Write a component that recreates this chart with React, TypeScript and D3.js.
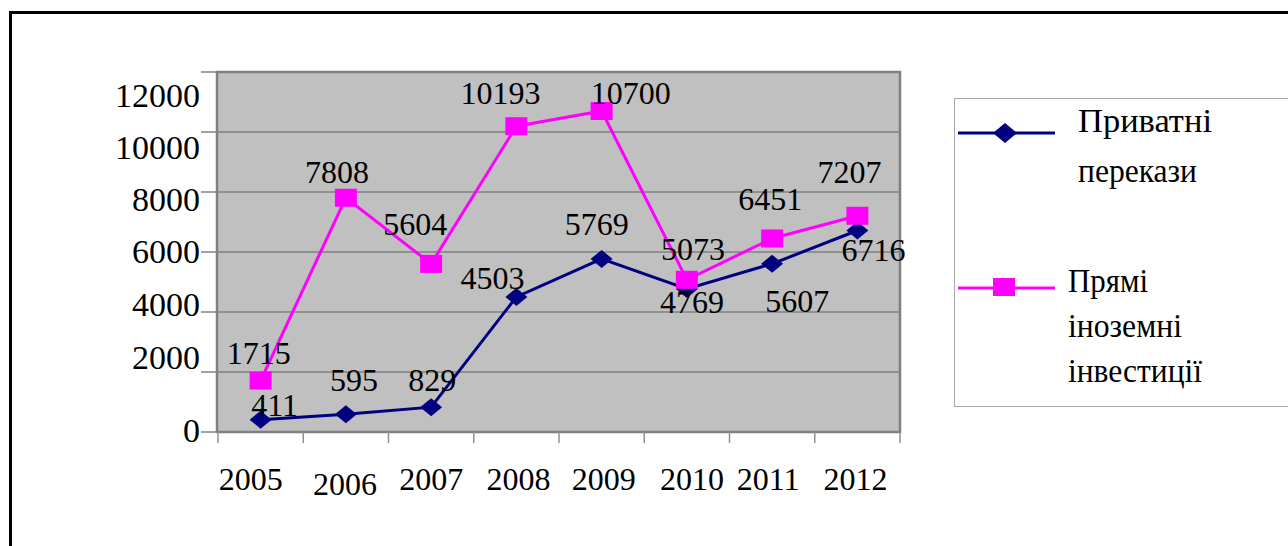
import React from "react";
import { scaleBand, scaleLinear, line as d3line } from "d3";

const years = ["2005", "2006", "2007", "2008", "2009", "2010", "2011", "2012"];
const privateTransfers = [411, 595, 829, 4503, 5769, 4769, 5607, 6716];
const fdi = [1715, 7808, 5604, 10193, 10700, 5073, 6451, 7207];
const yTicks = [0, 2000, 4000, 6000, 8000, 10000, 12000];
const seriesNames = [["Приватні", "перекази"], ["Прямі", "іноземні", "інвестиції"]];

// styling: label offsets relative to anchor points
const yLabelShift = [-2, -15, -8, -1, 7, 15, 23];
const xLabelShift = [[-10, 0], [-1, 5], [0, 0], [2, 0], [2, 0], [5, 0], [-4, 0], [-2, 0]];
const privOffsets = [[14, -15], [8, -34], [1, -27], [-24, -19], [-5, -35], [5, 13], [25, 37], [16, 19]];
const fdiOffsets = [[-2, -28], [-9, -26], [-16, -40], [-16, -33], [29, -18], [6, -31], [-2, -40], [-8, -44]];
const legendWidths = [[134, 119], [80, 114, 134]];

const W = 1288, H = 546;
const plot = { x0: 217, x1: 900, y0: 72, y1: 432 };
const NAVY = "#000080";
const MAG = "#FF00FF";

function T(props: any) {
  const { children, ...rest } = props;
  return (
    <text fill="#000" style={{ fontFamily: '"Liberation Serif"' }} {...rest}>
      {children}
    </text>
  );
}

export default function App() {
  const x = scaleBand<string>().domain(years).range([plot.x0 + 1, plot.x1]).padding(0);
  const y = scaleLinear().domain([0, 12000]).range([plot.y1, plot.y0]);
  const cx = (i: number) => (x(years[i]) as number) + x.bandwidth() / 2;
  const line = d3line<number>().x((_, i) => cx(i)).y((d) => y(d));
  const diamond = (px: number, py: number, w = 11, h = 10) =>
    `M${px},${py - h} L${px + w},${py} L${px},${py + h} L${px - w},${py} Z`;

  return (
    <svg width={W} height={H} style={{ position: "absolute", left: 0, top: 0 }}>
      <rect x={10.5} y={12.5} width={W + 10} height={H + 10} fill="#fff" stroke="#000" strokeWidth={3} />
      <rect x={plot.x0} y={plot.y0} width={plot.x1 - plot.x0} height={plot.y1 - plot.y0} fill="#C0C0C0" />
      {yTicks.map((t, k) => (
        <g key={t}>
          <line x1={plot.x0} x2={plot.x1} y1={y(t)} y2={y(t)} stroke="#808080" strokeWidth={1.5} />
          <line x1={201} x2={plot.x0} y1={y(t)} y2={y(t)} stroke="#808080" strokeWidth={1.5} />
          <T x={200} y={y(t) + yLabelShift[k]} dy="0.35em" textAnchor="end" fontSize={34}>
            {String(t)}
          </T>
        </g>
      ))}
      <rect x={plot.x0} y={plot.y0} width={plot.x1 - plot.x0} height={plot.y1 - plot.y0} fill="none" stroke="#808080" strokeWidth={2.5} />
      {years.map((yr) => (
        <line key={"t" + yr} x1={x(yr) as number} x2={x(yr) as number} y1={plot.y1} y2={plot.y1 + 11} stroke="#909090" strokeWidth={1.5} />
      ))}
      <line x1={plot.x1} x2={plot.x1} y1={plot.y1} y2={plot.y1 + 11} stroke="#909090" strokeWidth={1.5} />
      {years.map((yr, i) => (
        <T key={"l" + yr} x={cx(i) + xLabelShift[i][0]} y={490 + xLabelShift[i][1]} textAnchor="middle" fontSize={32}>
          {yr}
        </T>
      ))}
      <path d={line(privateTransfers) || ""} fill="none" stroke={NAVY} strokeWidth={3} />
      <path d={line(fdi) || ""} fill="none" stroke={MAG} strokeWidth={3} />
      {privateTransfers.map((v, i) => (
        <path key={"d" + i} d={diamond(cx(i), y(v), 11, 9)} fill={NAVY} />
      ))}
      {fdi.map((v, i) => (
        <rect key={"s" + i} x={cx(i) - 11} y={y(v) - 9} width={22} height={18} fill={MAG} />
      ))}
      {privateTransfers.map((v, i) => (
        <T key={"pl" + i} x={cx(i) + privOffsets[i][0]} y={y(v) + privOffsets[i][1]} dy="0.35em" textAnchor="middle" fontSize={32}>
          {String(v)}
        </T>
      ))}
      {fdi.map((v, i) => (
        <T key={"fl" + i} x={cx(i) + fdiOffsets[i][0]} y={y(v) + fdiOffsets[i][1]} dy="0.35em" textAnchor="middle" fontSize={32}>
          {String(v)}
        </T>
      ))}
      <rect x={954.5} y={98.5} width={340} height={308} fill="#fff" stroke="#A8A8A8" strokeWidth={1} />
      <line x1={958} x2={1055} y1={133} y2={133} stroke={NAVY} strokeWidth={3} />
      <path d={diamond(1005, 133, 12, 10)} fill={NAVY} />
      {seriesNames[0].map((s, k) => (
        <T key={"a" + k} x={1078} y={132 + k * 50} fontSize={33} textLength={legendWidths[0][k]} lengthAdjust="spacingAndGlyphs">
          {s}
        </T>
      ))}
      <line x1={958} x2={1055} y1={288} y2={288} stroke={MAG} strokeWidth={3} />
      <rect x={993} y={278} width={22} height={18} fill={MAG} />
      {seriesNames[1].map((s, k) => (
        <T key={"b" + k} x={1068} y={292 + k * 45} fontSize={33} textLength={legendWidths[1][k]} lengthAdjust="spacingAndGlyphs">
          {s}
        </T>
      ))}
    </svg>
  );
}
